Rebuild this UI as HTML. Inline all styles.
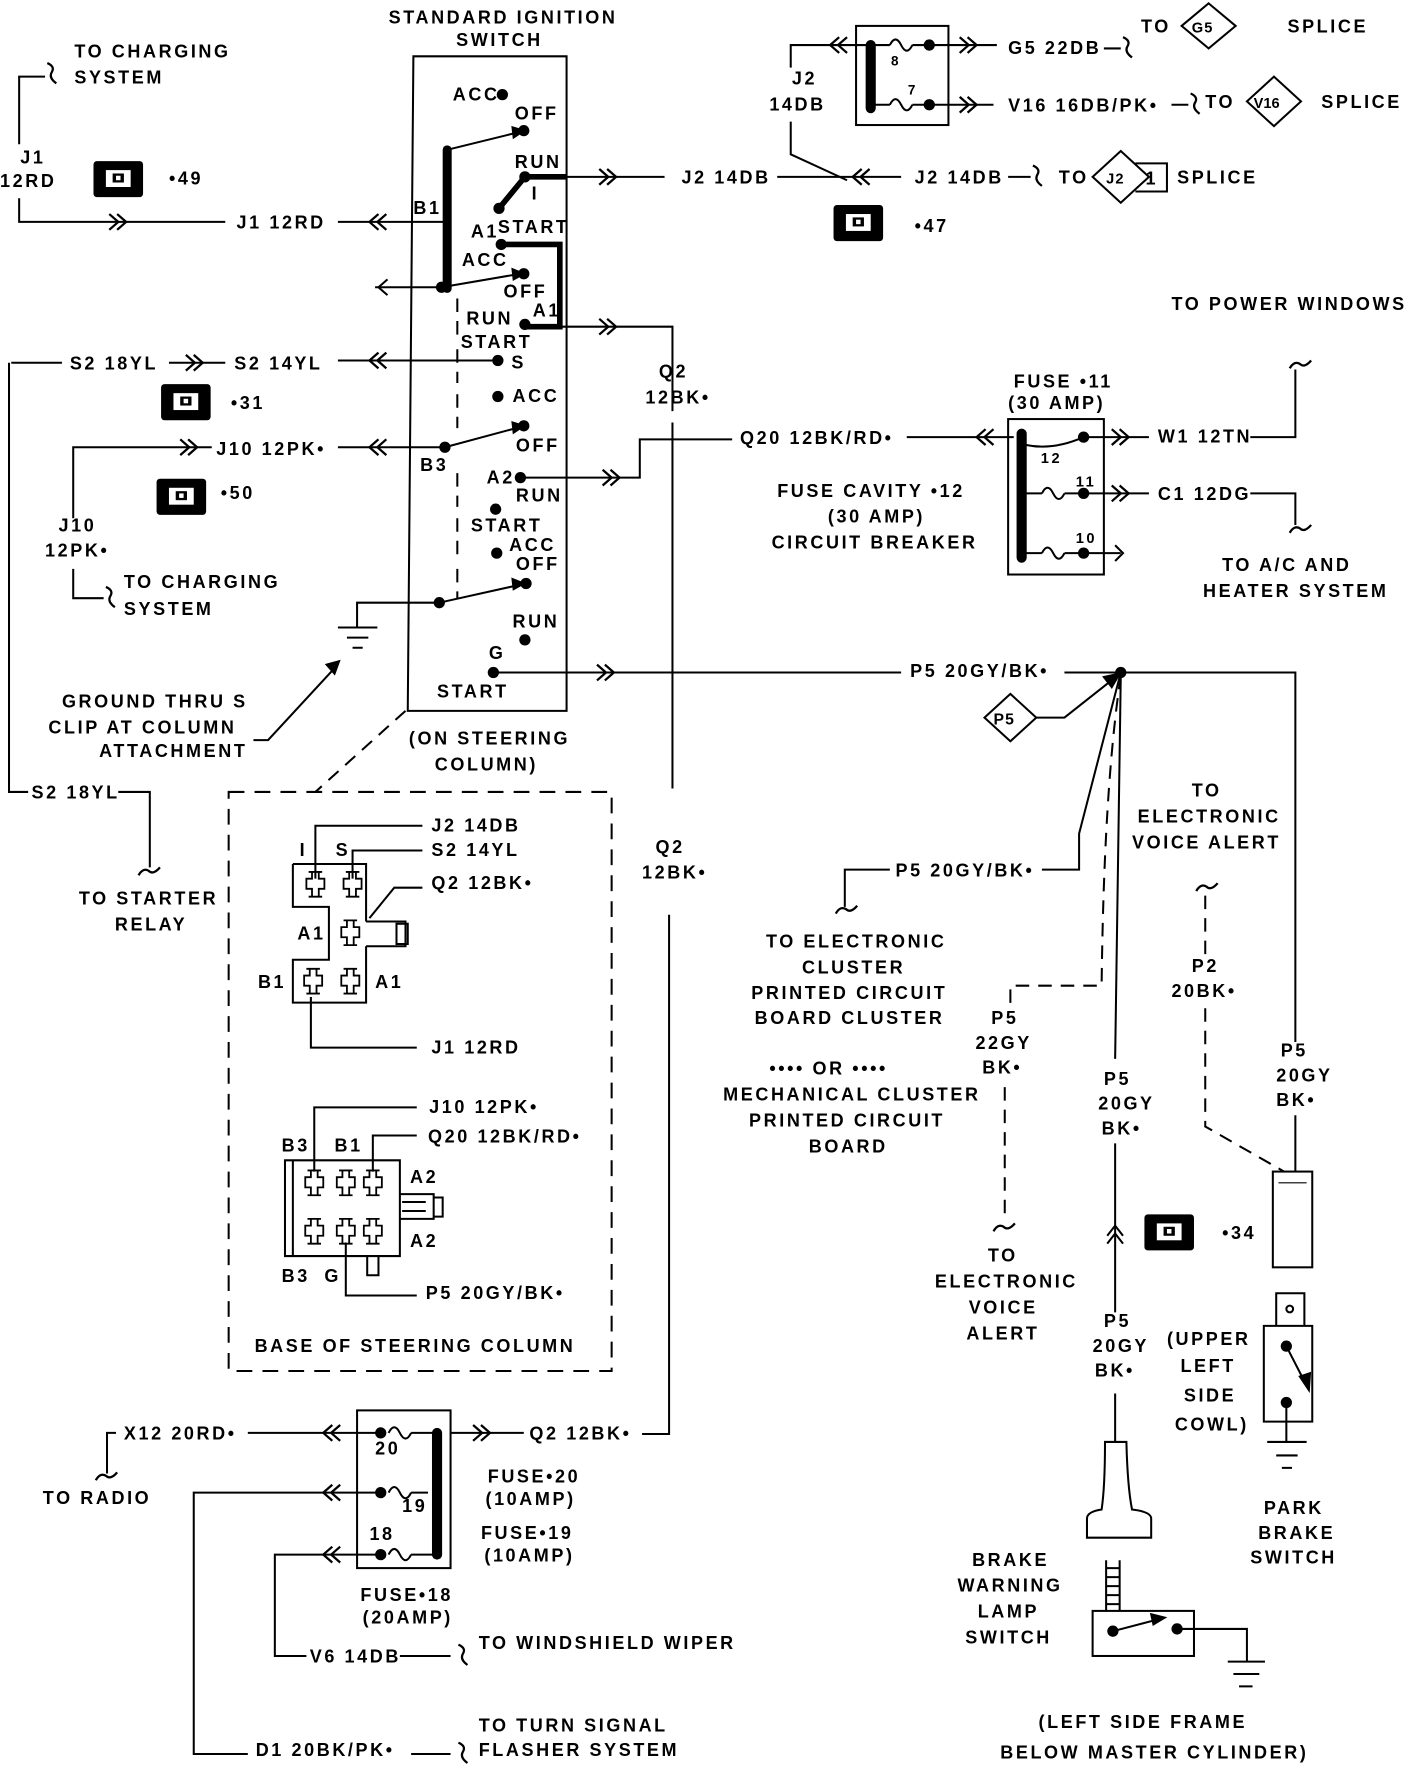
<!DOCTYPE html>
<html><head><meta charset="utf-8"><style>
html,body{margin:0;padding:0;background:#fff;}
svg{display:block;}
text{font-family:"Liberation Sans",sans-serif;font-weight:bold;font-size:16px;letter-spacing:2.3px;fill:#000;}
</style></head><body>
<svg width="1408" height="1772" viewBox="0 0 1250 1573" preserveAspectRatio="none" xmlns="http://www.w3.org/2000/svg">
<defs>
<g id="rr"><path d="M-10,-7 L-2,0 L-10,7 M-3,-7 L5,0 L-3,7" fill="none" stroke="#000" stroke-width="2"/></g>
<g id="ll"><path d="M10,-7 L2,0 L10,7 M3,-7 L-5,0 L3,7" fill="none" stroke="#000" stroke-width="2"/></g>
<g id="sqv"><path d="M-3,-10 Q4,-7 1,-2 Q-2,3 5,8" fill="none" stroke="#000" stroke-width="2"/></g>
<g id="sqh"><path d="M-10,3 Q-6,-4 -1,-1 Q3,3 9,-4" fill="none" stroke="#000" stroke-width="2"/></g>
<g id="conn"><rect x="0" y="0" width="44" height="32" rx="3" fill="#000"/><rect x="11" y="8" width="22" height="15" fill="#fff"/><rect x="17" y="11" width="10" height="8" fill="#000"/><rect x="20" y="13" width="4" height="4" fill="#fff"/></g>
<g id="term"><path d="M-6,-11 H6 M-3,-11 V-5 H-8 V4 H-3 V11 M3,-11 V-5 H8 V4 H3 V11 M-6,11 H6" fill="none" stroke="#000" stroke-width="1.6"/></g>
<g id="fz"><path d="M0,0 q5,-10 10,0 q5,10 10,0" fill="none" stroke="#000" stroke-width="1.8"/></g>
</defs>
<g fill="none" stroke="#000" stroke-width="1.8">

<path d="M40,68 H17 V128 M17,176 V197 H200"/>
<use href="#sqv" x="45" y="66"/>
<use href="#rr" x="107" y="197"/>
<path d="M300,197 H395"/>
<use href="#ll" x="333" y="197"/>

<path d="M367,50 H503 V631 H362 Z"/>
<path d="M397,133 V256" stroke-width="8" stroke-linecap="round"/>
<path d="M397,133 L462,117 M392,255 L462,243 M395,397 L462,379 M390,535 L462,519"/>
<path d="M455,113 L465,116 L456,122 Z M455,239 L465,243 L456,248 Z M455,375 L465,378 L456,384 Z M455,514 L465,518 L456,523 Z" fill="#000"/>
<path d="M466,157 H503 M466,157 L443,185 M445,217 H497 V290 H466" stroke-width="5"/>
<path d="M503,157 H590 M690,157 H800 M497,290 H597 V365 M597,375 V700 M594,812 V1273 H570"/>
<use href="#rr" x="542" y="157"/>
<use href="#rr" x="542" y="290"/>
<path d="M392,255 H333"/>
<path d="M344,248 L336,255 L344,262"/>
<path d="M406,265 V300 M406,310 V340 M406,350 V380 M406,420 V450 M406,460 V495 M406,505 V532" stroke-dasharray="12 8"/>
<path d="M442,320 H300"/><use href="#ll" x="333" y="320"/>
<path d="M10,322 H55 M150,322 H200 M8,322 V703 H25 M105,703 H133 V770"/>
<use href="#rr" x="175" y="322"/>
<use href="#sqh" x="133" y="774"/>
<path d="M395,397 H300"/><use href="#ll" x="333" y="397"/>
<path d="M188,397 H65 V460 M65,505 V531 H92"/>
<use href="#rr" x="170" y="397"/>
<use href="#sqv" x="97" y="531"/>
<path d="M462,424 H568 V390 H650 M805,388 H900"/>
<use href="#rr" x="545" y="424"/>
<use href="#ll" x="872" y="388"/>
<path d="M390,535 H317 V557 M300,557 H335 M308,566 H327 M313,575 H322"/>
<path d="M438,597 H800 M945,597 H1150 V925 M1150,990 V1040"/>
<use href="#rr" x="540" y="597"/>
<path d="M225,657 H238 L298,592"/>
<path d="M290,590 L301,587 L297,598 Z" fill="#000"/>
<path d="M360,631 L280,703" stroke-dasharray="12 8"/>
<rect x="203" y="703" width="340" height="514" stroke-dasharray="14 9"/>

<path d="M280,780 V733 H375 M313,780 V755 H375 M328,815 L350,788 H375 M276,885 V930 H370"/>
<path d="M260,767 H325 V818 M325,840 V890 H260 V852 H292 V805 H260 V767 M325,818 H360 V840 H325"/>
<rect x="352" y="820" width="10" height="18"/>
<use href="#term" x="280" y="785"/><use href="#term" x="313" y="785"/><use href="#term" x="311" y="828"/>
<use href="#term" x="278" y="871"/><use href="#term" x="311" y="871"/>

<path d="M279,1040 V983 H370 M331,1040 V1008 H370 M307,1103 V1150 H370"/>
<path d="M253,1030 H355 V1115 H253 Z M260,1030 V1115 M355,1060 H385 V1082 H355 M385,1063 H393 V1080 H385 M357,1067 H378 M357,1075 H378 M326,1115 V1132 H336 V1115"/>
<use href="#term" x="279" y="1050"/><use href="#term" x="307" y="1050"/><use href="#term" x="331" y="1050"/>
<use href="#term" x="279" y="1093"/><use href="#term" x="307" y="1093"/><use href="#term" x="331" y="1093"/>

<rect x="317" y="1252" width="83" height="140"/>
<path d="M388,1272 V1380" stroke-width="9" stroke-linecap="round"/>
<use href="#fz" x="345" y="1272"/><use href="#fz" x="345" y="1325"/><use href="#fz" x="345" y="1380"/>
<path d="M365,1272 H388 M365,1325 H380 M365,1380 H388"/>
<path d="M220,1272 H338 M400,1272 H465"/>
<use href="#ll" x="292" y="1272"/><use href="#rr" x="430" y="1272"/>
<path d="M103,1272 H95 V1308"/><use href="#sqh" x="95" y="1311"/>
<path d="M338,1325 H172 V1557 H220 M365,1557 H400"/><use href="#ll" x="292" y="1325"/>
<use href="#sqv" x="410" y="1557"/>
<path d="M338,1380 H244 V1470 H272 M355,1470 H400"/><use href="#ll" x="292" y="1380"/>
<use href="#sqv" x="410" y="1470"/>

<rect x="760" y="23" width="82" height="88"/>
<path d="M773,40 V96" stroke-width="9" stroke-linecap="round"/>
<use href="#fz" x="790" y="40"/><use href="#fz" x="790" y="93"/>
<path d="M777,40 H790 M777,93 H790 M810,40 H825 M810,93 H825"/>
<path d="M773,40 H702 V60 M702,108 V137 L752,160"/>
<use href="#ll" x="742" y="40"/>
<path d="M825,40 H885 M825,93 H882 M980,43 H995 M1040,93 H1055 M895,157 H915"/>
<use href="#rr" x="862" y="40"/><use href="#rr" x="862" y="93"/>
<use href="#sqv" x="1000" y="43"/><use href="#sqv" x="1060" y="93"/><use href="#sqv" x="920" y="157"/>
<use href="#ll" x="762" y="157"/>
<path d="M1073,3 L1097,23 L1073,43 L1049,23 Z M1131,68 L1155,90 L1131,112 L1107,90 Z M995,134 L1020,157 L995,180 L970,157 Z"/>
<path d="M1008,145 H1036 V170 H1008"/>

<rect x="895" y="372" width="85" height="138"/>
<path d="M907,385 V495" stroke-width="9" stroke-linecap="round"/>
<path d="M911,395 Q935,400 962,388"/>
<use href="#fz" x="925" y="438"/><use href="#fz" x="925" y="491"/>
<path d="M911,438 H925 M911,491 H925 M945,438 H962 M945,491 H962"/>
<path d="M962,388 H1020 M962,438 H1020 M962,491 H995"/>
<use href="#rr" x="997" y="388"/><use href="#rr" x="997" y="438"/>
<path d="M990,484 L997,491 L990,498"/>
<path d="M1110,388 H1150 V328"/><use href="#sqh" x="1155" y="324"/>
<path d="M1110,438 H1150 V466"/><use href="#sqh" x="1155" y="470"/>

<path d="M897,616 L920,637 L897,658 L874,637 Z"/>
<path d="M920,637 H945 L988,603"/>
<path d="M980,601 L994,598 L987,610 Z" fill="#000"/>
<path d="M995,597 L958,740 V772 H925 M790,772 H750 V805"/>
<use href="#sqh" x="752" y="808"/>
<path d="M995,600 Q980,700 978,875 H897 V895 M892,965 V1085" stroke-dasharray="12 8"/>
<use href="#sqh" x="892" y="1090"/>
<path d="M995,600 L990,940 M990,1015 V1165 M990,1237 V1280"/>
<path d="M983,1097 L990,1088 L997,1097 M983,1104 L990,1095 L997,1104"/>
<path d="M1070,795 V850 M1070,895 V1000 L1140,1040" stroke-dasharray="12 8"/>
<use href="#sqh" x="1072" y="788"/>
<rect x="1130" y="1040" width="35" height="85"/>
<path d="M1135,1050 H1160" stroke-width="1"/>
<path d="M1133,1177 V1148 H1158 V1177 M1122,1177 H1165 V1262 H1122 Z"/>
<circle cx="1145" cy="1162" r="3"/>
<path d="M1142,1195 L1160,1230"/>
<path d="M1154,1222 L1162,1234 L1163,1219 Z" fill="#000"/>
<path d="M1142,1245 V1280 M1125,1280 H1160 M1133,1292 H1152 M1138,1303 H1147"/>
<path d="M981,1280 H1000 Q1001,1320 1005,1340 Q1022,1342 1022,1348 V1365 H965 V1348 Q965,1342 978,1340 Q981,1320 981,1280 Z"/>
<path d="M982,1385 V1430 M994,1385 V1430 M982,1392 H994 M982,1400 H994 M982,1408 H994 M982,1416 H994 M982,1424 H994"/>
<rect x="970" y="1430" width="90" height="40"/>
<path d="M988,1448 L1030,1437"/>
<path d="M1022,1433 L1034,1436 L1024,1442 Z" fill="#000"/>
<path d="M1045,1446 H1107 V1475 M1090,1475 H1123 M1095,1486 H1118 M1100,1497 H1112"/>
</g>

<g fill="#000">
<circle cx="446" cy="84" r="5"/><circle cx="465" cy="116" r="5"/><circle cx="466" cy="157" r="5"/><circle cx="443" cy="185" r="5"/>
<circle cx="445" cy="217" r="5"/><circle cx="392" cy="255" r="5"/><circle cx="465" cy="243" r="5"/><circle cx="466" cy="288" r="5"/>
<circle cx="442" cy="320" r="5"/><circle cx="442" cy="352" r="5"/><circle cx="465" cy="378" r="5"/><circle cx="395" cy="397" r="5"/>
<circle cx="462" cy="424" r="5"/><circle cx="440" cy="452" r="5"/><circle cx="441" cy="491" r="5"/><circle cx="467" cy="518" r="5"/>
<circle cx="390" cy="535" r="5"/><circle cx="466" cy="568" r="5"/><circle cx="438" cy="597" r="5"/>
<circle cx="825" cy="40" r="5"/><circle cx="825" cy="93" r="5"/>
<circle cx="962" cy="388" r="5"/><circle cx="962" cy="438" r="5"/><circle cx="962" cy="491" r="5"/>
<circle cx="995" cy="597" r="5"/>
<circle cx="338" cy="1272" r="5"/><circle cx="338" cy="1325" r="5"/><circle cx="338" cy="1380" r="5"/>
<circle cx="1142" cy="1195" r="5"/><circle cx="1142" cy="1245" r="5"/>
<circle cx="988" cy="1448" r="5"/><circle cx="1045" cy="1446" r="5"/>
</g>
<use href="#conn" x="83" y="143"/><use href="#conn" x="143" y="341"/><use href="#conn" x="139" y="425"/>
<use href="#conn" x="740" y="182"/><use href="#conn" x="1016" y="1078"/>

<text x="345" y="21">STANDARD IGNITION</text>
<text x="405" y="41">SWITCH</text>
<text x="66" y="51">TO CHARGING</text><text x="66" y="74">SYSTEM</text>
<text x="18" y="145">J1</text><text x="0" y="166">12RD</text>
<text x="150" y="164">•49</text>
<text x="210" y="203">J1 12RD</text>
<text x="402" y="89">ACC</text><text x="457" y="106">OFF</text><text x="457" y="149">RUN</text><text x="472" y="177">I</text>
<text x="367" y="190">B1</text><text x="418" y="211">A1</text><text x="442" y="207">START</text>
<text x="410" y="236">ACC</text><text x="447" y="264">OFF</text><text x="414" y="288">RUN</text><text x="473" y="281">A1</text>
<text x="409" y="309">START</text><text x="454" y="327">S</text>
<text x="62" y="328">S2 18YL</text><text x="208" y="328">S2 14YL</text>
<text x="205" y="363">•31</text>
<text x="455" y="357">ACC</text><text x="458" y="401">OFF</text><text x="373" y="418">B3</text>
<text x="192" y="404">J10 12PK•</text>
<text x="196" y="443">•50</text>
<text x="432" y="429">A2</text><text x="458" y="445">RUN</text><text x="418" y="472">START</text>
<text x="452" y="489">ACC</text><text x="458" y="506">OFF</text>
<text x="52" y="472">J10</text><text x="40" y="494">12PK•</text>
<text x="110" y="522">TO CHARGING</text><text x="110" y="546">SYSTEM</text>
<text x="455" y="557">RUN</text><text x="434" y="585">G</text><text x="388" y="619">START</text>
<text x="55" y="628">GROUND THRU S</text><text x="43" y="651">CLIP AT COLUMN</text><text x="88" y="672">ATTACHMENT</text>
<text x="363" y="661">(ON STEERING</text><text x="386" y="684">COLUMN)</text>
<text x="28" y="709">S2 18YL</text>
<text x="70" y="803">TO STARTER</text><text x="102" y="826">RELAY</text>
<text x="585" y="335">Q2</text><text x="573" y="358">12BK•</text>
<text x="582" y="757">Q2</text><text x="570" y="780">12BK•</text>
<text x="605" y="163">J2 14DB</text>
<text x="657" y="394">Q20 12BK/RD•</text>
<text x="383" y="738">J2 14DB</text><text x="266" y="760">I</text><text x="298" y="760">S</text><text x="383" y="760">S2 14YL</text>
<text x="383" y="789">Q2 12BK•</text><text x="264" y="834">A1</text><text x="229" y="877">B1</text><text x="333" y="877">A1</text>
<text x="383" y="935">J1 12RD</text>
<text x="381" y="988">J10 12PK•</text><text x="250" y="1022">B3</text><text x="297" y="1022">B1</text><text x="380" y="1014">Q20 12BK/RD•</text>
<text x="364" y="1050">A2</text><text x="364" y="1107">A2</text><text x="250" y="1138">B3</text><text x="288" y="1138">G</text>
<text x="378" y="1153">P5 20GY/BK•</text>
<text x="226" y="1200">BASE OF STEERING COLUMN</text>
<text x="110" y="1278">X12 20RD•</text><text x="38" y="1335">TO RADIO</text>
<text x="470" y="1278">Q2 12BK•</text>
<text x="333" y="1291">20</text><text x="357" y="1342">19</text><text x="328" y="1367">18</text>
<text x="433" y="1316">FUSE•20</text><text x="431" y="1336">(10AMP)</text>
<text x="427" y="1366">FUSE•19</text><text x="430" y="1386">(10AMP)</text>
<text x="320" y="1421">FUSE•18</text><text x="322" y="1441">(20AMP)</text>
<text x="275" y="1476">V6 14DB</text><text x="425" y="1464">TO WINDSHIELD WIPER</text>
<text x="227" y="1559">D1 20BK/PK•</text>
<text x="425" y="1537">TO TURN SIGNAL</text><text x="425" y="1559">FLASHER SYSTEM</text>
<text x="703" y="75">J2</text><text x="683" y="98">14DB</text>
<text x="791" y="58" style="font-size:12px">8</text><text x="806" y="84" style="font-size:12px">7</text>
<text x="895" y="48">G5 22DB</text><text x="1013" y="29">TO</text><text x="1058" y="29" style="font-size:13px;letter-spacing:1px">G5</text><text x="1143" y="29">SPLICE</text>
<text x="895" y="99">V16 16DB/PK•</text><text x="1070" y="96">TO</text><text x="1113" y="96" style="font-size:13px;letter-spacing:0">V16</text><text x="1173" y="96">SPLICE</text>
<text x="812" y="163">J2 14DB</text><text x="940" y="163">TO</text><text x="982" y="163" style="font-size:13px;letter-spacing:1px">J2</text><text x="1017" y="164">1</text><text x="1045" y="163">SPLICE</text>
<text x="812" y="206">•47</text>
<text x="1040" y="275">TO POWER WINDOWS</text>
<text x="900" y="344">FUSE •11</text><text x="895" y="363">(30 AMP)</text>
<text x="924" y="411" style="font-size:13px">12</text><text x="955" y="432" style="font-size:13px">11</text><text x="955" y="482" style="font-size:13px">10</text>
<text x="1028" y="393">W1 12TN</text><text x="1028" y="444">C1 12DG</text>
<text x="690" y="441">FUSE CAVITY •12</text><text x="735" y="464">(30 AMP)</text><text x="685" y="487">CIRCUIT BREAKER</text>
<text x="1085" y="507">TO A/C AND</text><text x="1068" y="530">HEATER SYSTEM</text>
<text x="808" y="601">P5 20GY/BK•</text>
<text x="882" y="643" style="font-size:14px;letter-spacing:1px">P5</text>
<text x="1058" y="707">TO</text><text x="1010" y="730">ELECTRONIC</text><text x="1005" y="753">VOICE ALERT</text>
<text x="795" y="778">P5 20GY/BK•</text>
<text x="680" y="841">TO ELECTRONIC</text><text x="712" y="864">CLUSTER</text><text x="667" y="887">PRINTED CIRCUIT</text><text x="670" y="909">BOARD CLUSTER</text>
<text x="683" y="954">•••• OR ••••</text><text x="642" y="977">MECHANICAL CLUSTER</text><text x="665" y="1000">PRINTED CIRCUIT</text><text x="718" y="1023">BOARD</text>
<text x="880" y="909">P5</text><text x="866" y="931">22GY</text><text x="872" y="953">BK•</text>
<text x="1058" y="863">P2</text><text x="1040" y="885">20BK•</text>
<text x="1137" y="938">P5</text><text x="1133" y="960">20GY</text><text x="1133" y="982">BK•</text>
<text x="980" y="963">P5</text><text x="975" y="985">20GY</text><text x="978" y="1007">BK•</text>
<text x="1085" y="1100">•34</text>
<text x="877" y="1120">TO</text><text x="830" y="1143">ELECTRONIC</text><text x="860" y="1166">VOICE</text><text x="858" y="1189">ALERT</text>
<text x="980" y="1178">P5</text><text x="970" y="1200">20GY</text><text x="972" y="1222">BK•</text>
<text x="1036" y="1194">(UPPER</text><text x="1048" y="1218">LEFT</text><text x="1051" y="1244">SIDE</text><text x="1043" y="1270">COWL)</text>
<text x="1122" y="1344">PARK</text><text x="1117" y="1366">BRAKE</text><text x="1110" y="1388">SWITCH</text>
<text x="863" y="1390">BRAKE</text><text x="850" y="1413">WARNING</text><text x="868" y="1436">LAMP</text><text x="857" y="1459">SWITCH</text>
<text x="922" y="1534">(LEFT SIDE FRAME</text><text x="888" y="1561">BELOW MASTER CYLINDER)</text>
</svg>
</body></html>
